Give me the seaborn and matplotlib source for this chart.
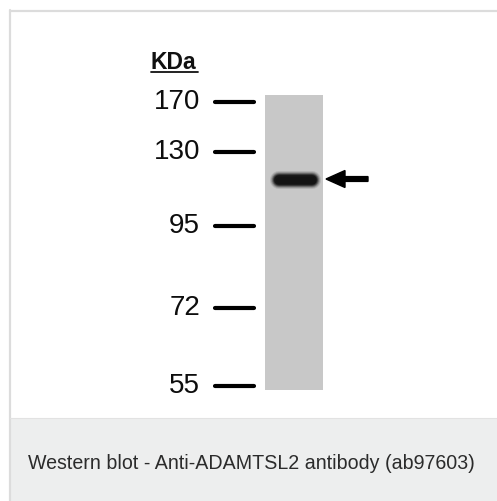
import numpy as np
import matplotlib.pyplot as plt
import matplotlib.patches as patches
import pandas as pd
import seaborn as sns

# Marker ladder (kDa) and how far each ran down the gel (px from top of figure)
marker_kda = ["170", "130", "95", "72", "55"]
marker_pos = [103, 153, 227, 309, 387]
# Detected band (ADAMTSL2) position
band_pos = 181
caption = "Western blot - Anti-ADAMTSL2 antibody (ab97603)"
unit_label = "KDa"

sns.set_theme(style="white")
plt.rcParams['font.family'] = ['Liberation Sans', 'DejaVu Sans']

fig = plt.figure(figsize=(4.97, 5.02), dpi=100)
ax = fig.add_axes([0, 0, 1, 1])

# frame + caption box
ax.add_patch(patches.Rectangle((10, 419), 487, 83, fc='#edeeee', ec='none'))
ax.plot([10, 10], [11, 502], color='#dcdcdc', lw=1.6)
ax.plot([10, 497], [11.5, 11.5], color='#dcdcdc', lw=1.6)
ax.plot([10, 497], [419, 419], color='#e2e2e2', lw=0.8)
ax.text(251, 464, caption, ha='center', va='center', fontsize=14.1, color='#2b2b2b')

# lane
ax.add_patch(patches.Rectangle((265, 96), 58, 295, fc='#c8c8c8', ec='none'))

# band, soft edges
for lw, a in [(13, 0.12), (11.5, 0.2), (10, 0.35), (8.5, 0.6), (7, 0.9), (5, 1.0)]:
    ax.plot([279, 312], [band_pos, band_pos], color='#141414', lw=lw, alpha=a,
            solid_capstyle='round')

# arrow
ax.arrow(368, band_pos - 1, -42, 0, width=4.8, head_width=17, head_length=19,
         length_includes_head=True, fc='black', ec='black')

# marker ticks
seg = pd.DataFrame({
    'kda': np.repeat(marker_kda, 2),
    'x': [215, 254] * len(marker_kda),
    'y': np.repeat(marker_pos, 2),
})
sns.lineplot(data=seg, x='x', y='y', units='kda', estimator=None, color='black',
             lw=3, ax=ax, legend=False)
ax.set_xlim(0, 497)
ax.set_ylim(502, 0)
ax.axis('off')

for lab, y in zip(marker_kda, marker_pos):
    ax.text(200, y - 1, lab, ha='right', va='center', fontsize=20, color='#0d0d0d')

# unit label, underlined
ax.text(151, 69, unit_label, ha='left', va='baseline', fontsize=16.5,
        fontweight='bold', color='#111111')
ax.plot([151, 198], [72.5, 72.5], color='#111111', lw=1.3)

fig.savefig('out.png', dpi=100, facecolor='white')
